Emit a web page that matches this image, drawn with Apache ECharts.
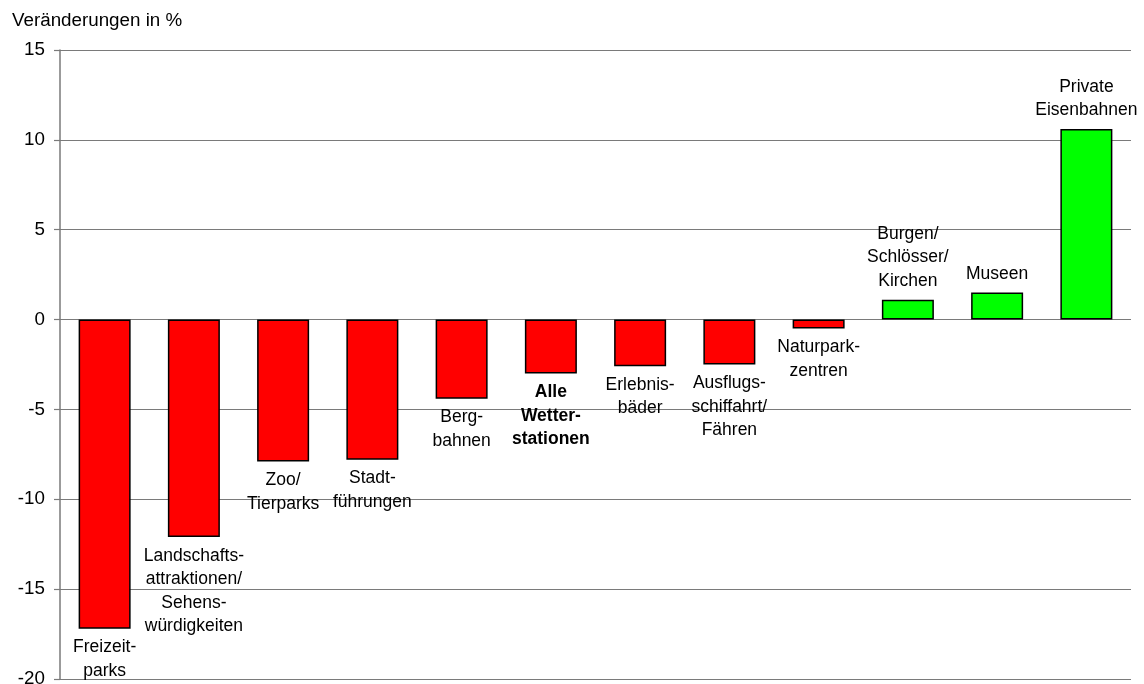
<!DOCTYPE html>
<html>
<head>
<meta charset="utf-8">
<script src="https://cdn.jsdelivr.net/npm/echarts@6/dist/echarts.min.js"></script>
<style>
  html, body { margin: 0; padding: 0; background: #fff; overflow: hidden; }
  #chart { width: 1144px; height: 684px; }
</style>
</head>
<body>
<div id="chart"></div>
<script>
// Categories (label text as it is wrapped under/over each bar)
const categories = [
  'Freizeit-\nparks',
  'Landschafts-\nattraktionen/\nSehens-\nwürdigkeiten',
  'Zoo/\nTierparks',
  'Stadt-\nführungen',
  'Berg-\nbahnen',
  'Alle\nWetter-\nstationen',
  'Erlebnis-\nbäder',
  'Ausflugs-\nschiffahrt/\nFähren',
  'Naturpark-\nzentren',
  'Burgen/\nSchlösser/\nKirchen',
  'Museen',
  'Private\nEisenbahnen'
];
// Change in percent
const values = [-17.2, -12.1, -7.9, -7.8, -4.4, -3.0, -2.6, -2.5, -0.5, 1.1, 1.5, 10.6];
// Index of the overall total, shown in bold
const totalIndex = 5;
const yTicks = { min: -20, max: 15, interval: 5 };

const FONT = '"Liberation Sans", Arial, sans-serif';
const FS_AXIS = 18.8;
const FS_LABEL = 17.5;

const chart = echarts.init(document.getElementById('chart'));
chart.setOption({
  animation: false,
  backgroundColor: '#ffffff',
  title: {
    text: 'Veränderungen in %',
    left: 7,
    top: 6,
    textStyle: { fontFamily: FONT, fontSize: FS_AXIS, fontWeight: 'normal', color: '#000' }
  },
  grid: {
    left: 60, right: 13, top: 50, bottom: 5,
    containLabel: false,
    outerBoundsMode: 'none'
  },
  xAxis: {
    type: 'category',
    data: categories,
    axisLine: { show: false },
    axisTick: { show: false },
    axisLabel: { show: false },
    splitLine: { show: false }
  },
  yAxis: {
    type: 'value',
    min: yTicks.min,
    max: yTicks.max,
    interval: yTicks.interval,
    axisLine: { show: true, lineStyle: { color: '#7a7a7a', width: 1.5 } },
    axisTick: { show: true, length: 6, lineStyle: { color: '#7a7a7a', width: 1.2 } },
    axisLabel: { margin: 15, fontFamily: FONT, fontSize: FS_AXIS, color: '#000' },
    splitLine: { show: true, lineStyle: { color: '#7a7a7a', width: 1.2 } }
  },
  series: [{
    type: 'bar',
    barWidth: 52,
    data: values.map((v, i) => ({
      value: v,
      itemStyle: {
        color: v < 0 ? '#ff0000' : '#00ff00',
        borderColor: '#000',
        borderWidth: 1.5
      },
      label: i === totalIndex ? { fontWeight: 'bold' } : {}
    })),
    label: {
      show: true,
      position: 'outside',
      distance: 7,
      fontFamily: FONT,
      fontSize: FS_LABEL,
      lineHeight: 23.5,
      color: '#000',
      align: 'center',
      formatter: (p) => categories[p.dataIndex]
    }
  }]
});
</script>
</body>
</html>
